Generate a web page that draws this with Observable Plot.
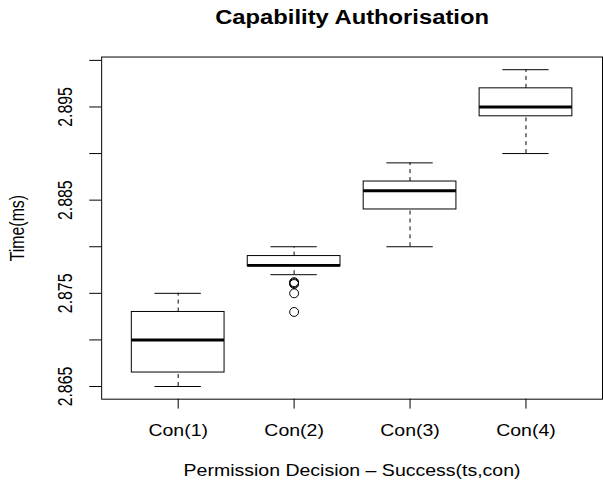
<!DOCTYPE html>
<html>
<head>
<meta charset="utf-8">
<script src="https://cdn.jsdelivr.net/npm/d3@7"></script>
<script src="https://cdn.jsdelivr.net/npm/@observablehq/plot@0.6"></script>
<style>
  html, body { margin: 0; padding: 0; background: #fff; overflow: hidden; width: 603px; height: 483px; }
  svg { display: block; }
</style>
</head>
<body>
<div id="chart"></div>
<script>
const title = "Capability Authorisation";
const xTitle = "Permission Decision \u2013 Success(ts,con)";
const yTitle = "Time(ms)";
const categories = ["Con(1)", "Con(2)", "Con(3)", "Con(4)"];
const lowerWhisker = [2.865, 2.877, 2.880, 2.890];
const q1 = [2.8665, 2.8779, 2.884, 2.894];
const medians = [2.870, 2.878, 2.886, 2.895];
const q3 = [2.873, 2.879, 2.887, 2.897];
const upperWhisker = [2.875, 2.880, 2.889, 2.899];
const outlierGroup = [2, 2, 2, 2, 2];
const outlierValue = [2.8762, 2.8761, 2.8760, 2.875, 2.873];
const yTicks = [2.865, 2.870, 2.875, 2.880, 2.885, 2.890, 2.895, 2.900];
const yTickLabels = [2.865, 2.875, 2.885, 2.895];

const boxes = categories.map((c, i) => ({
  pos: i + 1, name: c,
  lo: lowerWhisker[i], q1: q1[i], med: medians[i], q3: q3[i], hi: upperWhisker[i]
}));
const outliers = outlierValue.map((v, i) => ({pos: outlierGroup[i], v}));

const font = "'Liberation Sans', Arial, Helvetica, sans-serif";
const stretch = 1.23; // the reference's text is horizontally widened

const chart = Plot.plot({
  width: 608,
  height: 483,
  marginTop: 57,
  marginBottom: 81,
  marginLeft: 102,
  marginRight: 1,
  style: {fontFamily: font, fontSize: "16px", background: "white", overflow: "visible"},
  x: {domain: [0.34, 4.66], axis: null, label: null},
  y: {domain: [2.86364, 2.90036], axis: null, label: null},
  marks: [
    Plot.frame({stroke: "black", strokeWidth: 1}),
    // whiskers
    Plot.ruleX(boxes, {x: "pos", y1: "q3", y2: "hi", stroke: "black", strokeDasharray: "4,4"}),
    Plot.ruleX(boxes, {x: "pos", y1: "lo", y2: "q1", stroke: "black", strokeDasharray: "4,4"}),
    // caps
    Plot.ruleY(boxes, {y: "hi", x1: d => d.pos - 0.2, x2: d => d.pos + 0.2, stroke: "black"}),
    Plot.ruleY(boxes, {y: "lo", x1: d => d.pos - 0.2, x2: d => d.pos + 0.2, stroke: "black"}),
    // boxes
    Plot.rect(boxes, {x1: d => d.pos - 0.4, x2: d => d.pos + 0.4, y1: "q1", y2: "q3", fill: "white", stroke: "black", strokeWidth: 1}),
    // medians
    Plot.ruleY(boxes, {y: "med", x1: d => d.pos - 0.4, x2: d => d.pos + 0.4, stroke: "black", strokeWidth: 3}),
    // outliers
    Plot.dot(outliers, {x: "pos", y: "v", r: 4.5, stroke: "black", fill: "none", strokeWidth: 1}),
    // y axis ticks
    Plot.axisY({ticks: yTicks, tickSize: 12, tickFormat: () => "", anchor: "left", label: null}),
    Plot.text(yTickLabels, {y: d => d, text: d => d.toFixed(3), frameAnchor: "left", dx: -30, rotate: -90, lineAnchor: "bottom", textAnchor: "middle", fontSize: 16, fill: "black"}),
    // x axis ticks and labels
    Plot.axisX({ticks: [1, 2, 3, 4], tickSize: 10, tickFormat: () => "", anchor: "bottom", label: null}),
    Plot.text(boxes, {x: "pos", text: "name", frameAnchor: "bottom", dy: 26, lineAnchor: "top", textAnchor: "middle", fontSize: 16, fill: "black"}),
    // titles
    Plot.text([title], {frameAnchor: "top", dy: -33, lineAnchor: "bottom", textAnchor: "middle", text: d => d, fontWeight: "bold", fontSize: 19.5, fill: "black"}),
    Plot.text([xTitle], {frameAnchor: "bottom", dy: 77, lineAnchor: "bottom", textAnchor: "middle", text: d => d, fontSize: 16, fill: "black"}),
    Plot.text([yTitle], {frameAnchor: "left", dx: -78, rotate: -90, lineAnchor: "bottom", textAnchor: "middle", text: d => d, fontSize: 16, fill: "black"})
  ]
});

document.getElementById("chart").appendChild(chart);

// widen all text horizontally, as in the reference picture
d3.select(chart).selectAll("text").each(function() {
  const el = d3.select(this);
  const T = el.attr("transform") || "";
  if (/rotate/.test(T)) {
    el.attr("transform", T + ` scale(1,${stretch})`);
  } else {
    const b = this.getBBox();
    const cx = b.x + b.width / 2;
    el.attr("transform", `${T} translate(${cx},0) scale(${stretch},1) translate(${-cx},0)`);
  }
});
</script>
</body>
</html>
